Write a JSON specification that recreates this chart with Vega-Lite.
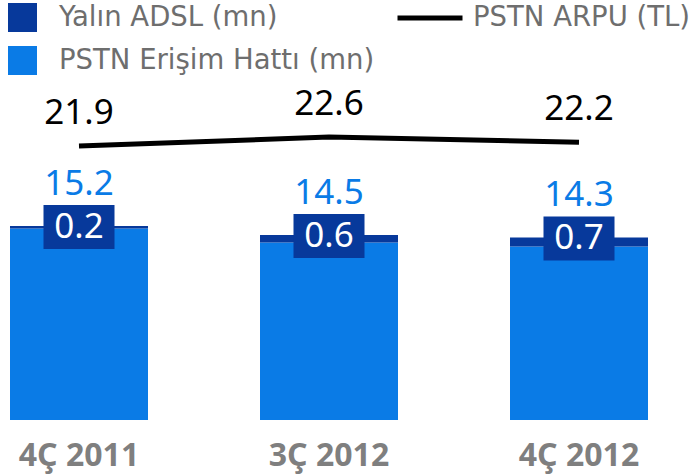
{
  "$schema": "https://vega.github.io/schema/vega-lite/v6.json",
  "width": 658,
  "height": 420,
  "autosize": {"type": "none"},
  "padding": {"left": 0, "top": 0, "right": 41, "bottom": 56},
  "background": "white",
  "config": {"view": {"stroke": null}, "font": "Noto Sans"},
  "data": {"values": [
    {"q": "4Ç 2011", "pstn": 15.0, "adsl": 0.2, "total": 15.2, "arpu": 21.9},
    {"q": "3Ç 2012", "pstn": 13.9, "adsl": 0.6, "total": 14.5, "arpu": 22.6},
    {"q": "4Ç 2012", "pstn": 13.6, "adsl": 0.7, "total": 14.3, "arpu": 22.2}
  ]},
  "encoding": {
    "x": {
      "field": "q", "type": "nominal", "sort": null,
      "scale": {"paddingInner": 0.448, "paddingOuter": 0.04},
      "axis": {"title": null, "domain": false, "ticks": false, "labelAngle": 0, "labelFontSize": 32, "labelFontWeight": "bold", "labelColor": "#7f7f7f", "labelPadding": 20, "labelFont": "Noto Sans"}
    }
  },
  "layer": [
    {
      "layer": [
        {
          "mark": {"type": "bar"},
          "encoding": {
            "y": {"field": "pstn", "type": "quantitative", "scale": {"domain": [0, 32.9], "nice": false}, "axis": null},
            "color": {
              "datum": "PSTN Erişim Hattı (mn)", "type": "nominal",
              "scale": {"domain": ["Yalın ADSL (mn)", "PSTN Erişim Hattı (mn)"], "range": ["#07399b", "#0a7be6"]},
              "legend": {"orient": "none", "legendX": 8, "legendY": 3, "title": null, "symbolType": "square", "symbolSize": 840, "symbolStrokeWidth": 0, "symbolOpacity": 1, "labelFontSize": 27.5, "labelColor": "#6e6e6e", "labelOffset": 22, "labelLimit": 500, "rowPadding": 14, "padding": 0, "labelFont": "DejaVu Sans", "direction": "vertical"}
            }
          }
        },
        {
          "mark": {"type": "bar"},
          "encoding": {
            "y": {"field": "pstn", "type": "quantitative"},
            "y2": {"field": "total"},
            "color": {"datum": "Yalın ADSL (mn)", "type": "nominal"}
          }
        },
        {
          "mark": {"type": "point", "shape": "M-1,-0.62L1,-0.62L1,0.62L-1,0.62Z", "size": 5041, "filled": true, "opacity": 1, "color": "#07399b", "yOffset": 1},
          "encoding": {"y": {"field": "total", "type": "quantitative"}}
        },
        {
          "mark": {"type": "text", "color": "white", "fontSize": 35, "baseline": "middle", "dy": 1},
          "encoding": {"y": {"field": "total", "type": "quantitative"}, "text": {"field": "adsl", "type": "quantitative", "format": ".1f"}}
        },
        {
          "mark": {"type": "text", "color": "#0a7be6", "fontSize": 35, "baseline": "middle", "dy": -42},
          "encoding": {"y": {"field": "total", "type": "quantitative"}, "text": {"field": "total", "type": "quantitative", "format": ".1f"}}
        }
      ]
    },
    {
      "layer": [
        {
          "mark": {"type": "line", "strokeWidth": 5, "strokeCap": "butt"},
          "encoding": {
            "y": {"field": "arpu", "type": "quantitative", "scale": {"domain": [0.6, 33.26], "zero": false, "nice": false}, "axis": null},
            "stroke": {
              "datum": "PSTN ARPU (TL)", "type": "nominal",
              "scale": {"range": ["black"]},
              "legend": {"orient": "none", "legendX": 395, "legendY": -17, "title": null, "symbolType": "stroke", "symbolSize": 4225, "symbolStrokeWidth": 5, "symbolStrokeColor": "black", "labelFontSize": 27.5, "labelColor": "#6e6e6e", "labelOffset": 8, "labelLimit": 500, "padding": 0, "labelFont": "DejaVu Sans"}
            }
          }
        },
        {
          "mark": {"type": "text", "color": "black", "fontSize": 35, "baseline": "middle", "dy": -33},
          "encoding": {"y": {"field": "arpu", "type": "quantitative"}, "text": {"field": "arpu", "type": "quantitative", "format": ".1f"}}
        }
      ]
    }
  ],
  "resolve": {"scale": {"y": "independent"}}
}
